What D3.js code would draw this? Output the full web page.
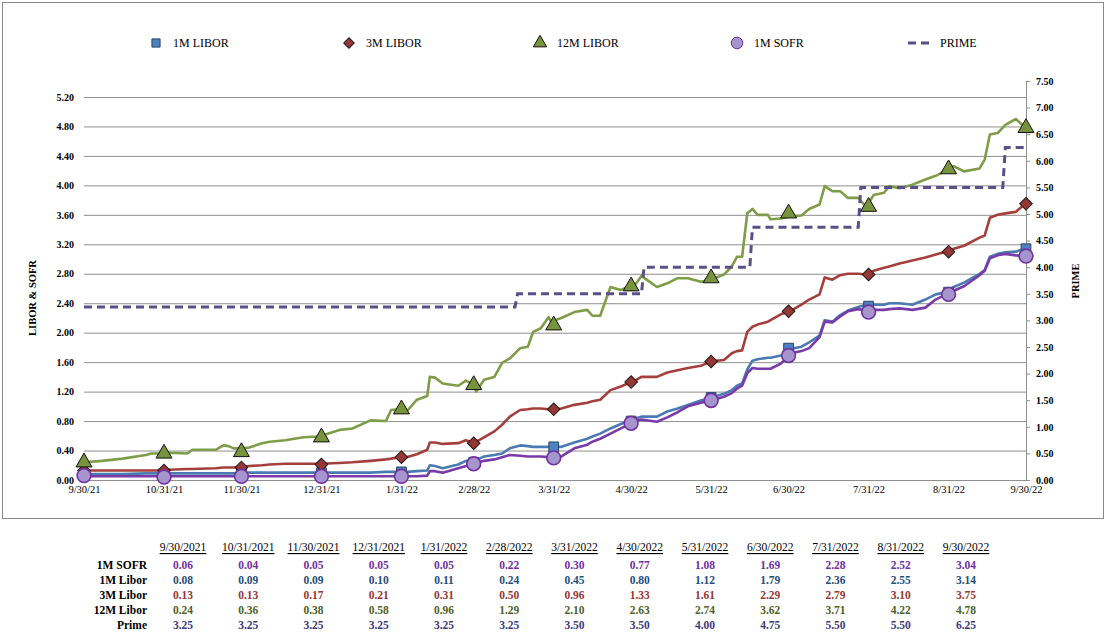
<!DOCTYPE html>
<html>
<head>
<meta charset="utf-8">
<script src="https://cdn.jsdelivr.net/npm/d3@7"></script>
<style>
  body { margin: 0; background: #fff; }
  svg, svg text { font-family: "Liberation Serif", "Times New Roman", serif; }
</style>
</head>
<body>
<svg id="chart"></svg>
<script>
// daily-ish line readings (left axis = LIBOR & SOFR, right axis = PRIME)
const lineDates = [
  "2021-09-30","2021-10-07","2021-10-15","2021-10-24","2021-10-26","2021-10-31","2021-11-02","2021-11-09","2021-11-11","2021-11-20",
  "2021-11-23","2021-11-25","2021-11-27","2021-11-30","2021-12-03","2021-12-08","2021-12-11","2021-12-17","2021-12-24","2021-12-30",
  "2022-01-07","2022-01-12","2022-01-19","2022-01-25","2022-01-27","2022-01-30","2022-02-02","2022-02-06","2022-02-10","2022-02-11",
  "2022-02-13","2022-02-16","2022-02-22","2022-02-25","2022-02-28","2022-03-01","2022-03-04","2022-03-08","2022-03-11","2022-03-14",
  "2022-03-18","2022-03-21","2022-03-23","2022-03-26","2022-03-29","2022-03-30","2022-04-03","2022-04-08","2022-04-13","2022-04-15",
  "2022-04-18","2022-04-22","2022-04-26","2022-05-02","2022-05-04","2022-05-06","2022-05-10","2022-05-14","2022-05-18","2022-05-22",
  "2022-05-27","2022-05-31","2022-06-05","2022-06-08","2022-06-10","2022-06-12","2022-06-14","2022-06-16","2022-06-18","2022-06-22",
  "2022-06-23","2022-06-27","2022-07-01","2022-07-05","2022-07-08","2022-07-12","2022-07-14","2022-07-17","2022-07-20","2022-07-23",
  "2022-07-27","2022-07-30","2022-08-02","2022-08-06","2022-08-08","2022-08-12","2022-08-17","2022-08-22","2022-08-26","2022-08-30",
  "2022-09-02","2022-09-06","2022-09-12","2022-09-14","2022-09-16","2022-09-19","2022-09-22","2022-09-26","2022-09-30"
];

const libor12m = [
  0.24,0.26,0.29,0.34,0.36,0.36,0.37,0.36,0.41,0.41,
  0.47,0.46,0.43,0.43,0.44,0.50,0.52,0.54,0.58,0.59,
  0.68,0.70,0.81,0.80,0.95,0.96,0.93,1.09,1.14,1.40,
  1.39,1.31,1.28,1.35,1.29,1.20,1.36,1.40,1.59,1.65,
  1.79,1.81,2.01,2.06,2.21,2.15,2.20,2.28,2.31,2.23,
  2.23,2.62,2.58,2.67,2.77,2.72,2.62,2.67,2.74,2.74,
  2.69,2.72,2.79,2.90,3.03,3.03,3.62,3.68,3.60,3.60,
  3.54,3.55,3.58,3.59,3.68,3.74,3.99,3.92,3.92,3.83,
  3.83,3.71,3.87,3.90,3.99,3.96,4.01,4.08,4.13,4.20,
  4.26,4.19,4.23,4.35,4.69,4.71,4.82,4.90,4.78
];

const libor3m = [
  0.13,0.13,0.13,0.13,0.13,0.13,0.14,0.15,0.15,0.16,
  0.17,0.17,0.17,0.18,0.19,0.20,0.21,0.22,0.22,0.22,
  0.23,0.24,0.26,0.28,0.29,0.31,0.31,0.35,0.41,0.51,
  0.51,0.49,0.50,0.54,0.50,0.52,0.58,0.66,0.75,0.86,
  0.95,0.96,0.97,0.97,0.96,0.96,0.97,1.02,1.05,1.07,
  1.09,1.22,1.27,1.36,1.40,1.40,1.40,1.46,1.49,1.52,
  1.55,1.61,1.63,1.72,1.75,1.76,2.01,2.08,2.11,2.15,
  2.17,2.25,2.30,2.38,2.45,2.52,2.75,2.72,2.78,2.80,
  2.80,2.79,2.84,2.88,2.90,2.94,2.98,3.02,3.06,3.10,
  3.14,3.18,3.29,3.32,3.56,3.60,3.62,3.64,3.76
];

const libor1m = [
  0.08,0.08,0.08,0.09,0.09,0.09,0.09,0.09,0.09,0.09,
  0.09,0.09,0.09,0.09,0.10,0.10,0.10,0.10,0.10,0.10,
  0.10,0.10,0.10,0.11,0.11,0.11,0.11,0.12,0.13,0.20,
  0.19,0.16,0.21,0.26,0.24,0.27,0.32,0.34,0.36,0.43,
  0.47,0.46,0.45,0.45,0.45,0.45,0.45,0.51,0.56,0.59,
  0.63,0.70,0.76,0.84,0.86,0.86,0.86,0.93,0.97,1.02,
  1.08,1.12,1.17,1.22,1.28,1.31,1.50,1.62,1.64,1.66,
  1.66,1.69,1.78,1.81,1.87,1.96,2.17,2.15,2.24,2.30,
  2.35,2.38,2.38,2.38,2.40,2.40,2.38,2.45,2.52,2.55,
  2.62,2.68,2.80,2.85,3.03,3.07,3.09,3.10,3.15
];

const sofr1m = [
  0.05,0.05,0.05,0.05,0.05,0.05,0.05,0.05,0.05,0.05,
  0.05,0.05,0.05,0.05,0.05,0.05,0.05,0.05,0.05,0.05,
  0.05,0.05,0.05,0.05,0.05,0.05,0.05,0.05,0.06,0.12,
  0.12,0.10,0.16,0.19,0.22,0.23,0.26,0.28,0.31,0.34,
  0.33,0.32,0.32,0.32,0.31,0.31,0.32,0.43,0.48,0.52,
  0.56,0.63,0.70,0.80,0.82,0.81,0.79,0.85,0.92,1.00,
  1.05,1.08,1.13,1.18,1.24,1.28,1.45,1.52,1.51,1.51,
  1.51,1.58,1.72,1.75,1.79,1.94,2.15,2.14,2.22,2.29,
  2.32,2.30,2.31,2.31,2.32,2.33,2.31,2.34,2.45,2.52,
  2.57,2.63,2.78,2.84,3.01,3.05,3.07,3.05,3.04
];

const primeDates = ["2021-09-30","2022-03-16","2022-03-17","2022-05-04","2022-05-05","2022-06-15",
  "2022-06-16","2022-07-27","2022-07-28","2022-09-21","2022-09-22","2022-09-30"];
const primeRates = [3.25,3.25,3.50,3.50,4.00,4.00,4.75,4.75,5.50,5.50,6.25,6.25];

// month-end table (also used for the markers)
const tableDates = ["9/30/2021","10/31/2021","11/30/2021","12/31/2021","1/31/2022","2/28/2022","3/31/2022",
  "4/30/2022","5/31/2022","6/30/2022","7/31/2022","8/31/2022","9/30/2022"];
const tableSofr = [0.06,0.04,0.05,0.05,0.05,0.22,0.30,0.77,1.08,1.69,2.28,2.52,3.04];
const tableLibor1m = [0.08,0.09,0.09,0.10,0.11,0.24,0.45,0.80,1.12,1.79,2.36,2.55,3.14];
const tableLibor3m = [0.13,0.13,0.17,0.21,0.31,0.50,0.96,1.33,1.61,2.29,2.79,3.10,3.75];
const tableLibor12m = [0.24,0.36,0.38,0.58,0.96,1.29,2.10,2.63,2.74,3.62,3.71,4.22,4.78];
const tablePrime = [3.25,3.25,3.25,3.25,3.25,3.25,3.50,3.50,4.00,4.75,5.50,5.50,6.25];

const leftTicks = [0,0.4,0.8,1.2,1.6,2.0,2.4,2.8,3.2,3.6,4.0,4.4,4.8,5.2];
const rightTicks = [0,0.5,1,1.5,2,2.5,3,3.5,4,4.5,5,5.5,6,6.5,7,7.5];

const parse = d3.timeParse("%Y-%m-%d");
const parseTable = d3.timeParse("%m/%d/%Y");

const W = 1112, H = 639;
const plot = { left: 84, right: 1026, top: 81, bottom: 480 };
const serif = "Liberation Serif, Times New Roman, serif";

const svg = d3.select("#chart")
  .attr("width", W).attr("height", H)
  .attr("font-family", serif);

// chart frame
svg.append("rect")
  .attr("x", 2.5).attr("y", 2.5)
  .attr("width", 1101).attr("height", 516)
  .attr("fill", "#fff").attr("stroke", "#8a8a8a");

// scales
const x = d3.scaleTime()
  .domain([parse("2021-09-30"), parse("2022-09-30")])
  .range([plot.left, plot.right]);
const yLeft = d3.scaleLinear().domain([0, 5.417]).range([plot.bottom, plot.top]);
const yRight = d3.scaleLinear().domain([0, 7.5]).range([plot.bottom, plot.top]);

// gridlines
svg.append("g")
  .attr("transform", `translate(${plot.left},0)`)
  .call(d3.axisLeft(yLeft).tickValues(leftTicks).tickSize(-(plot.right - plot.left)).tickFormat(""))
  .call(g => g.select(".domain").remove())
  .call(g => g.selectAll("line").attr("stroke", "#8f8f8f"));

// left axis labels
svg.append("g")
  .attr("transform", `translate(${plot.left},0)`)
  .call(d3.axisLeft(yLeft).tickValues(leftTicks).tickSize(0).tickPadding(10).tickFormat(d3.format(".2f")))
  .call(g => g.select(".domain").remove())
  .call(g => g.selectAll("text")
    .attr("font-family", serif).attr("font-weight", "bold")
    .attr("font-size", 10).attr("fill", "#000"));

// right axis
svg.append("g")
  .attr("transform", `translate(${plot.right},0)`)
  .call(d3.axisRight(yRight).tickValues(rightTicks).tickSize(4).tickPadding(6).tickFormat(d3.format(".2f")))
  .call(g => g.select(".domain").attr("stroke", "#8f8f8f"))
  .call(g => g.selectAll("line").attr("stroke", "#8f8f8f"))
  .call(g => g.selectAll("text")
    .attr("font-family", serif).attr("font-weight", "bold")
    .attr("font-size", 10).attr("fill", "#000"));

// x axis
svg.append("g")
  .attr("transform", `translate(0,${plot.bottom})`)
  .call(d3.axisBottom(x).tickValues(tableDates.map(parseTable)).tickSize(0).tickPadding(6)
    .tickFormat(d3.timeFormat("%-m/%-d/%y")))
  .call(g => g.select(".domain").remove())
  .call(g => g.selectAll("text")
    .attr("font-family", serif).attr("font-size", 10.5).attr("fill", "#000"));

// axis titles
svg.append("text")
  .attr("transform", "translate(36,298) rotate(-90)")
  .attr("text-anchor", "middle")
  .attr("font-weight", "bold").attr("font-size", 10.5)
  .text("LIBOR & SOFR");
svg.append("text")
  .attr("transform", "translate(1079,281) rotate(-90)")
  .attr("text-anchor", "middle")
  .attr("font-weight", "bold").attr("font-size", 10.5)
  .text("PRIME");

// series
const series = [
  { name: "1M LIBOR", values: libor1m, table: tableLibor1m, line: "#4a7bb0",
    symbol: d3.symbolSquare, size: 95, rotate: 0, fill: "#4f81bd", stroke: "#26446b" },
  { name: "3M LIBOR", values: libor3m, table: tableLibor3m, line: "#a43f3c",
    symbol: d3.symbolSquare, size: 80, rotate: 45, fill: "#953735", stroke: "#1a1a1a" },
  { name: "12M LIBOR", values: libor12m, table: tableLibor12m, line: "#7f9d48",
    symbol: d3.symbolTriangle, size: 110, rotate: 0, fill: "#77933c", stroke: "#111" },
  { name: "1M SOFR", values: sofr1m, table: tableSofr, line: "#7a3aa8",
    symbol: d3.symbolCircle, size: 150, rotate: 0, fill: "#a595cc", stroke: "#7030a0" }
];

const line = d3.line()
  .x(d => x(d[0]))
  .y(d => yLeft(d[1]));

const dates = lineDates.map(parse);

series.forEach(s => {
  svg.append("path")
    .datum(dates.map((d, i) => [d, s.values[i]]))
    .attr("fill", "none")
    .attr("stroke", s.line)
    .attr("stroke-width", 2.6)
    .attr("stroke-linejoin", "round")
    .attr("d", line);
});

// prime dashed step line
svg.append("path")
  .datum(primeDates.map((d, i) => [parse(d), primeRates[i]]))
  .attr("fill", "none")
  .attr("stroke", "#5b4f88")
  .attr("stroke-width", 3)
  .attr("stroke-dasharray", "8,5")
  .attr("d", d3.line().x(d => x(d[0])).y(d => yRight(d[1])));

// month-end markers
series.forEach(s => {
  svg.append("g")
    .selectAll("path")
    .data(tableDates.map((d, i) => [parseTable(d), s.table[i]]))
    .join("path")
    .attr("transform", d => `translate(${x(d[0])},${yLeft(d[1])}) rotate(${s.rotate})`)
    .attr("d", d3.symbol().type(s.symbol).size(s.size))
    .attr("fill", s.fill)
    .attr("stroke", s.stroke)
    .attr("stroke-width", s.symbol === d3.symbolCircle ? 1.6 : 1);
});

// legend
const legendX = [156, 349, 540, 737];
series.forEach((s, i) => {
  svg.append("path")
    .attr("transform", `translate(${legendX[i]},43) rotate(${s.rotate})`)
    .attr("d", d3.symbol().type(s.symbol).size(s.size * 0.7))
    .attr("fill", s.fill)
    .attr("stroke", s.stroke)
    .attr("stroke-width", 1);
  svg.append("text")
    .attr("x", legendX[i] + 17).attr("y", 43)
    .attr("dominant-baseline", "central")
    .attr("font-size", 12)
    .text(s.name);
});
svg.append("line")
  .attr("x1", 908).attr("x2", 930).attr("y1", 43).attr("y2", 43)
  .attr("stroke", "#5b4f88").attr("stroke-width", 3).attr("stroke-dasharray", "8,5");
svg.append("text")
  .attr("x", 940).attr("y", 43)
  .attr("dominant-baseline", "central")
  .attr("font-size", 12)
  .text("PRIME");

// data table below the chart
const colX = d => 183 + d * 65.25;
const rows = [
  { label: "1M SOFR", values: tableSofr, color: "#7030a0" },
  { label: "1M Libor", values: tableLibor1m, color: "#1f4e79" },
  { label: "3M Libor", values: tableLibor3m, color: "#953735" },
  { label: "12M Libor", values: tableLibor12m, color: "#4f6228" },
  { label: "Prime", values: tablePrime, color: "#403a7a" }
];

svg.append("g")
  .selectAll("text")
  .data(tableDates)
  .join("text")
  .attr("x", (d, i) => colX(i))
  .attr("y", 547)
  .attr("text-anchor", "middle")
  .attr("dominant-baseline", "central")
  .attr("font-size", 11.5)
  .attr("text-decoration", "underline")
  .text(d => d);

rows.forEach((r, j) => {
  const y = 565 + j * 15;
  svg.append("text")
    .attr("x", 147).attr("y", y)
    .attr("text-anchor", "end")
    .attr("dominant-baseline", "central")
    .attr("font-size", 11.5).attr("font-weight", "bold")
    .text(r.label);
  svg.append("g")
    .selectAll("text")
    .data(r.values)
    .join("text")
    .attr("x", (d, i) => colX(i))
    .attr("y", y)
    .attr("text-anchor", "middle")
    .attr("dominant-baseline", "central")
    .attr("font-size", 11.5).attr("font-weight", "bold")
    .attr("fill", r.color)
    .text(d => d.toFixed(2));
});
</script>
</body>
</html>
